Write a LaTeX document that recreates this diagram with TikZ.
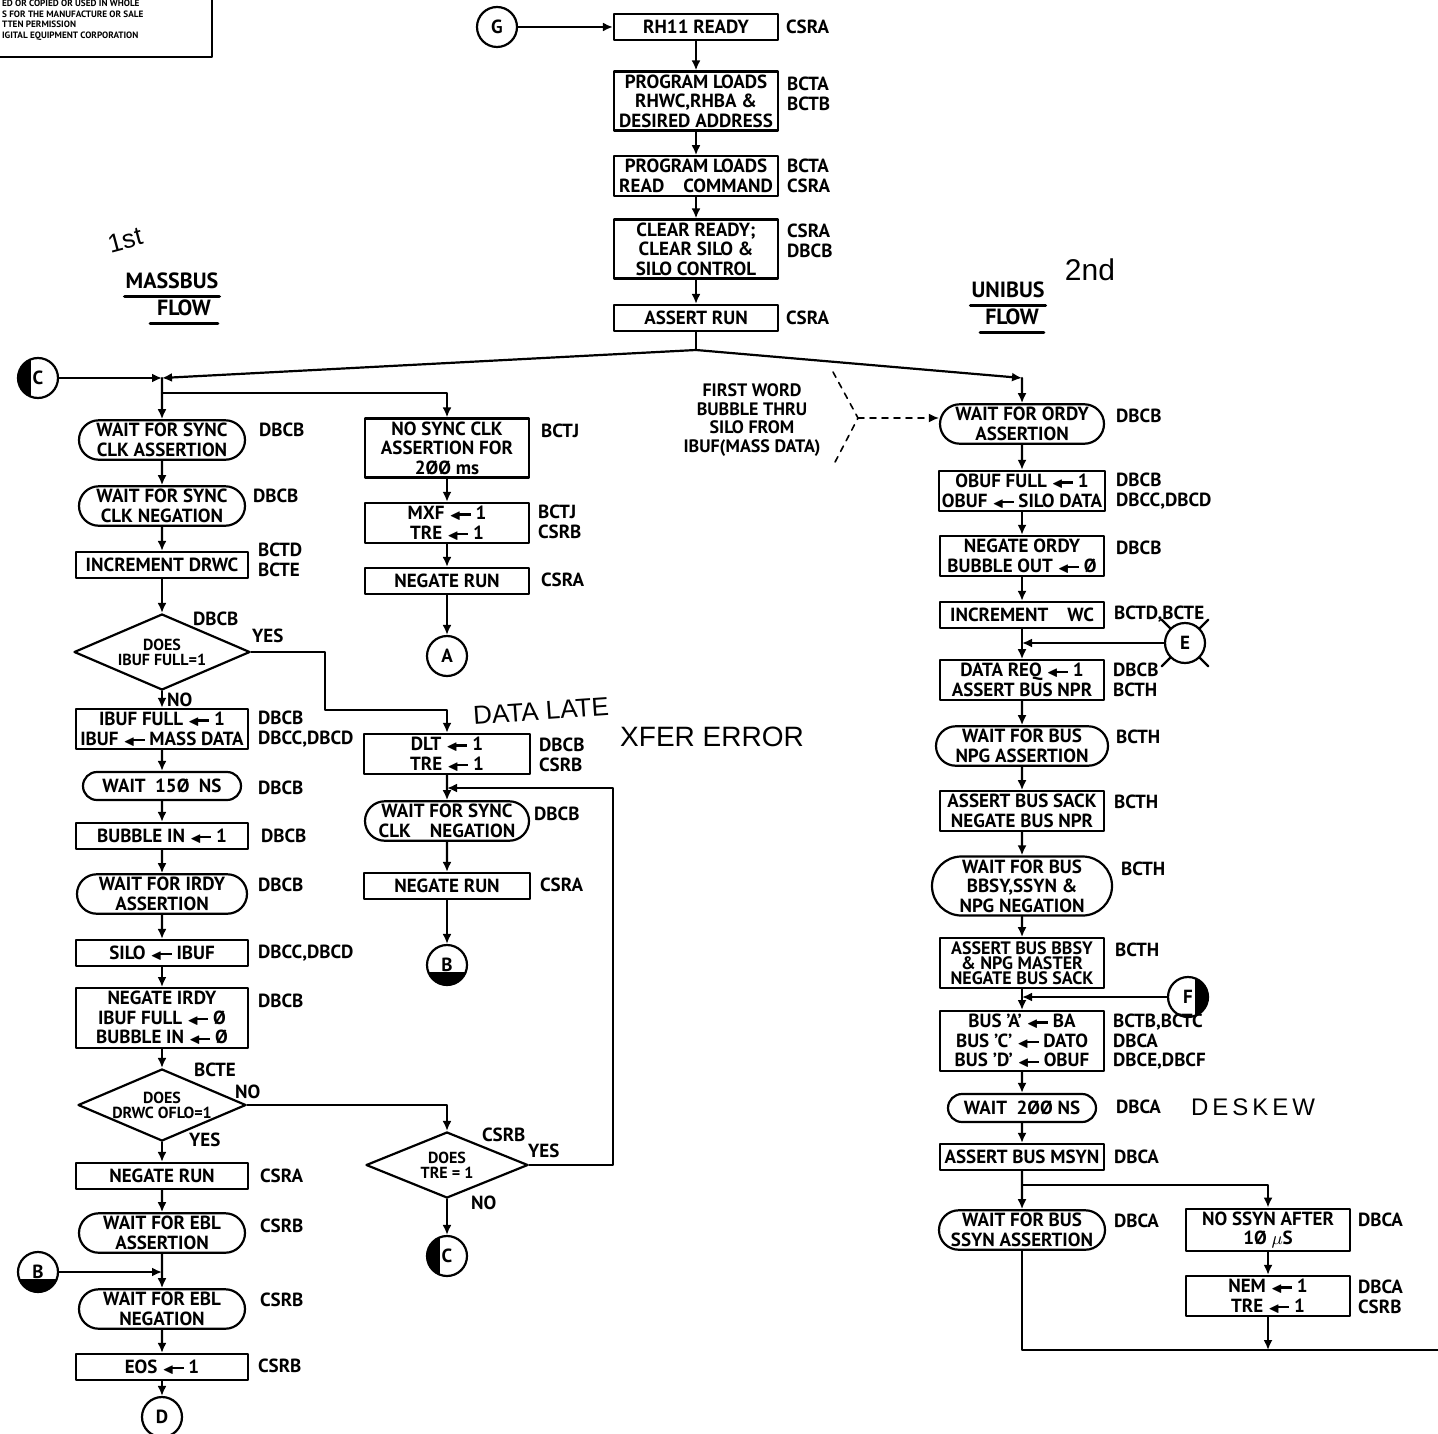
\documentclass[tikz,border=0pt]{standalone}
\usepackage{amsmath,amssymb}
\usepackage{fontspec}
\setmainfont{PT Sans}
\newfontfamily\handfont{Liberation Sans}
\usetikzlibrary{shapes.geometric,shapes.misc,arrows.meta}
\newcommand\lbl{\fontsize{9.5}{9.8}\selectfont\bfseries}
\newcommand\lar{\ensuremath{\scriptstyle\blacktriangleleft}\kern-0.25em\rule[0.2em]{0.75em}{1.2pt}}
\tikzset{
  box/.style={draw, rectangle, minimum width=#1, minimum height=13pt, inner sep=1.5pt, align=center, font=\lbl},
  box/.default=82pt,
  term/.style={draw, rounded rectangle, minimum width=#1, minimum height=14pt, inner sep=1.5pt, align=center, font=\lbl},
  term/.default=86pt,
  dec/.style={draw, diamond, aspect=2.3, inner sep=0pt, align=center, font=\fontsize{8}{7.5}\selectfont\bfseries},
  conn/.style={draw, circle, minimum size=20pt, inner sep=0pt, font=\lbl},
  cleft/.style={conn, path picture={\fill (path picture bounding box.south west) rectangle ([xshift=-3.5pt]path picture bounding box.north);}},
  cbot/.style={conn, path picture={\fill (path picture bounding box.south west) rectangle ([yshift=-3.5pt]path picture bounding box.east);}},
  cright/.style={conn, path picture={\fill ([xshift=3.5pt]path picture bounding box.south) rectangle (path picture bounding box.north east);}},
  tag/.style={anchor=west, align=left, inner sep=0pt, font=\lbl},
  hand/.style={inner sep=0pt, font=\handfont\fontsize{13}{13}\selectfont},
  arr/.style={-{Latex[length=5pt,width=4.5pt]}},
}
\begin{document}
\begin{tikzpicture}[x=0.5pt,y=-0.5pt,line width=1.1pt,line cap=round,line join=round]
\useasboundingbox (0,0) rectangle (1438,1433);
% notice in the corner
\draw (0,57) -- (212,57) -- (212,-2);
\node[anchor=north west, align=left, inner sep=0pt, font=\fontsize{4.6}{5.3}\selectfont\bfseries] (notice) at (1,-1) {ED OR COPIED OR USED IN WHOLE\\S FOR THE MANUFACTURE OR SALE\\TTEN PERMISSION\\IGITAL EQUIPMENT CORPORATION};

% titles
\node[font=\fontsize{11}{11}\selectfont\bfseries, inner sep=0pt] (mtit) at (172,281) {MASSBUS};
\node[font=\fontsize{11}{11}\selectfont\bfseries, inner sep=0pt] (mflow) at (184,308) {FLOW};
\draw[line width=1.6pt] ([yshift=-3pt]mtit.south west) -- ([yshift=-3pt]mtit.south east);
\draw[line width=1.6pt] ([xshift=-3pt,yshift=-3pt]mflow.south west) -- ([xshift=3pt,yshift=-3pt]mflow.south east);
\node[font=\fontsize{11}{11}\selectfont\bfseries, inner sep=0pt] (utit) at (1008,290) {UNIBUS};
\node[font=\fontsize{11}{11}\selectfont\bfseries, inner sep=0pt] (uflow) at (1012,317) {FLOW};
\draw[line width=1.6pt] ([yshift=-3pt]utit.south west) -- ([yshift=-3pt]utit.south east);
\draw[line width=1.6pt] ([xshift=-2pt,yshift=-3pt]uflow.south west) -- ([xshift=2pt,yshift=-3pt]uflow.south east);
\node[hand, rotate=15] (first) at (125,240) {1st};
\node[hand, font=\handfont\fontsize{15}{15}\selectfont] (second) at (1090,270) {2nd};
\node[hand, rotate=4] (late) at (541,711) {DATA LATE};
\node[hand, font=\handfont\fontsize{14}{14}\selectfont] (xfer) at (712,737) {XFER ERROR};
\node[hand, anchor=west, font=\handfont\fontsize{12}{12}\selectfont] (deskew) at (1190,1107) {D\,E\,S\,K\,E\,W};

% top column
\node[conn] (cG) at (497,27) {G};
\node[box] (rdy) at (696,27) {RH11 READY};
\node[box] (pl1) at (696,101) {PROGRAM LOADS\\RHWC,RHBA \&\\DESIRED ADDRESS};
\node[box] (pl2) at (696,176) {PROGRAM LOADS\\READ\quad COMMAND};
\node[box] (clr) at (696,249) {CLEAR READY;\\CLEAR SILO \&\\SILO CONTROL};
\node[box] (arun) at (696,318) {ASSERT RUN};
\node[tag] (trdy) at (785,27) {CSRA};
\node[tag] (tpl1) at (786,94) {BCTA\\BCTB};
\node[tag] (tpl2) at (786,176) {BCTA\\CSRA};
\node[tag] (tclr) at (786,241) {CSRA\\DBCB};
\node[tag] (tarun) at (785,318) {CSRA};

% massbus column
\node[cleft] (cC1) at (38,378) {C};
\node[term] (ws1) at (162,440) {WAIT FOR SYNC\\CLK ASSERTION};
\node[term] (ws2) at (162,506) {WAIT FOR SYNC\\CLK NEGATION};
\node[box=86pt] (incd) at (162,565) {INCREMENT DRWC};
\node[dec, minimum width=88pt, minimum height=38pt] (dq1) at (162,652) {DOES\\IBUF FULL=1};
\node[box=86pt] (ibuf) at (162,729) {IBUF FULL \lar\ 1\\IBUF \lar\ MASS DATA};
\node[term=82pt] (w150) at (162,786) {WAIT\enspace 15Ø\enspace NS};
\node[box=86pt] (bub) at (162,836) {BUBBLE IN \lar\ 1};
\node[term=88pt] (wirdy) at (162,894) {WAIT FOR IRDY\\ASSERTION};
\node[box=86pt] (silo) at (162,953) {SILO \lar\ IBUF};
\node[box=86pt] (negi) at (162,1018) {NEGATE IRDY\\IBUF FULL \lar\ Ø\\BUBBLE IN \lar\ Ø};
\node[dec, minimum width=84pt, minimum height=36pt] (dq2) at (162,1105) {DOES\\DRWC OFLO=1};
\node[box=86pt] (negr1) at (162,1176) {NEGATE RUN};
\node[term] (webl1) at (162,1233) {WAIT FOR EBL\\ASSERTION};
\node[cbot] (cB1) at (38,1272) {B};
\node[term] (webl2) at (162,1309) {WAIT FOR EBL\\NEGATION};
\node[box=86pt] (eos) at (162,1367) {EOS \lar\ 1};
\node[conn] (cD) at (162,1417) {D};
\node[tag] (tws1) at (258,430) {DBCB};
\node[tag] (tws2) at (252,496) {DBCB};
\node[tag] (tincd) at (257,560) {BCTD\\BCTE};
\node[tag] (tdq1) at (192,619) {DBCB};
\node[tag] (ydq1) at (251,636) {YES};
\node[tag] (ndq1) at (166,700) {NO};
\node[tag] (tibuf) at (257,729) {DBCB\\DBCC,DBCD};
\node[tag] (tw150) at (257,788) {DBCB};
\node[tag] (tbub) at (260,836) {DBCB};
\node[tag] (twirdy) at (257,885) {DBCB};
\node[tag] (tsilo) at (257,953) {DBCC,DBCD};
\node[tag] (tnegi) at (257,1001) {DBCB};
\node[tag] (tdq2) at (193,1070) {BCTE};
\node[tag] (ndq2) at (234,1092) {NO};
\node[tag] (ydq2) at (188,1140) {YES};
\node[tag] (tnegr1) at (259,1176) {CSRA};
\node[tag] (twebl1) at (259,1226) {CSRB};
\node[tag] (twebl2) at (259,1300) {CSRB};
\node[tag] (teos) at (257,1366) {CSRB};

% middle column
\node[box] (nosync) at (447,448) {NO SYNC CLK\\ASSERTION FOR\\2ØØ ms};
\node[box] (mxf) at (447,523) {MXF \lar\ 1\\TRE \lar\ 1};
\node[box] (negr2) at (447,581) {NEGATE RUN};
\node[conn] (cA) at (447,656) {A};
\node[box=83pt] (dlt) at (447,754) {DLT \lar\ 1\\TRE \lar\ 1};
\node[term=85pt] (wsn) at (447,821) {WAIT FOR SYNC\\CLK\quad NEGATION};
\node[box=83pt] (negr3) at (447,886) {NEGATE RUN};
\node[cbot] (cB2) at (447,965) {B};
\node[dec, minimum width=81pt, minimum height=33pt] (dq3) at (447,1165) {DOES\\TRE = 1};
\node[cleft] (cC2) at (447,1256) {C};
\node[tag] (tnosync) at (540,431) {BCTJ};
\node[tag] (tmxf) at (537,522) {BCTJ\\CSRB};
\node[tag] (tnegr2) at (540,580) {CSRA};
\node[tag] (tdlt) at (538,755) {DBCB\\CSRB};
\node[tag] (twsn) at (533,814) {DBCB};
\node[tag] (tnegr3) at (539,885) {CSRA};
\node[tag] (tdq3) at (481,1135) {CSRB};
\node[tag] (ydq3) at (527,1151) {YES};
\node[tag] (ndq3) at (470,1203) {NO};
\node[font=\fontsize{9}{9.2}\selectfont\bfseries, align=center, inner sep=0pt] (note) at (752,420) {FIRST WORD\\BUBBLE THRU\\SILO FROM\\IBUF(MASS DATA)};

% unibus column
\node[term=85pt] (wordy) at (1022,424) {WAIT FOR ORDY\\ASSERTION};
\node[box] (obuf) at (1022,491) {OBUF FULL \lar\ 1\\OBUF \lar\ SILO DATA};
\node[box] (nego) at (1022,556) {NEGATE ORDY\\BUBBLE OUT \lar\ Ø};
\node[box] (incw) at (1022,615) {INCREMENT\quad WC};
\node[conn] (cE) at (1185,643) {E};
\node[box] (dreq) at (1022,680) {DATA REQ \lar\ 1\\ASSERT BUS NPR};
\node[term=89pt] (wnpg) at (1022,746) {WAIT FOR BUS\\NPG ASSERTION};
\node[box] (sack) at (1022,811) {ASSERT BUS SACK\\NEGATE BUS NPR};
\node[term=93pt] (wbb) at (1022,886) {WAIT FOR BUS\\BBSY,SSYN \&\\NPG NEGATION};
\node[box, font=\fontsize{9}{7.6}\selectfont\bfseries] (bbsy) at (1022,963) {ASSERT BUS BBSY\\\& NPG MASTER\\NEGATE BUS SACK};
\node[cright] (cF) at (1188,997) {F};
\node[box] (busa) at (1022,1041) {BUS 'A' \lar\ BA\\BUS 'C' \lar\ DATO\\BUS 'D' \lar\ OBUF};
\node[term=77pt] (w200) at (1022,1108) {WAIT\enspace 2ØØ NS};
\node[box] (msyn) at (1022,1157) {ASSERT BUS MSYN};
\node[term=86pt] (wssyn) at (1022,1230) {WAIT FOR BUS\\SSYN ASSERTION};
\node[box] (nossyn) at (1268,1230) {NO SSYN AFTER\\1Ø $\mu$S};
\node[box] (nem) at (1268,1296) {NEM \lar\ 1\\TRE \lar\ 1};
\node[tag] (twordy) at (1115,416) {DBCB};
\node[tag] (tobuf) at (1115,491) {DBCB\\DBCC,DBCD};
\node[tag] (tnego) at (1115,548) {DBCB};
\node[tag] (tincw) at (1113,614) {BCTD,BCTE};
\node[tag] (tdreq) at (1112,680) {DBCB\\BCTH};
\node[tag] (twnpg) at (1115,737) {BCTH};
\node[tag] (tsack) at (1113,802) {BCTH};
\node[tag] (twbb) at (1120,869) {BCTH};
\node[tag] (tbbsy) at (1114,950) {BCTH};
\node[tag] (tbusa) at (1112,1042) {BCTB,BCTC\\DBCA\\DBCE,DBCF};
\node[tag] (tw200) at (1115,1107) {DBCA};
\node[tag] (tmsyn) at (1113,1157) {DBCA};
\node[tag] (twssyn) at (1113,1221) {DBCA};
\node[tag] (tnossyn) at (1357,1220) {DBCA};
\node[tag] (tnem) at (1357,1297) {DBCA\\CSRB};
\foreach \a in {45,135,225,315}
  \draw (cE.\a) -- ([shift={(\a:6pt)}]cE.\a);

% connectors
\coordinate (split) at (696,350);
\coordinate (jl) at (162,378);
\coordinate (jb) at (162,393);
\coordinate (jr) at (1022,378);
\coordinate (yes1) at (325,710);
\coordinate (yes3) at (613,788);
\coordinate (rb) at (1022,1185);
\coordinate (exit) at (1438,1350);
\coordinate (bk) at (858,418);
\draw[arr] (cG) -- (rdy);
\foreach \a/\b in {rdy/pl1,pl1/pl2,pl2/clr,clr/arun}
  \draw[arr] (\a) -- (\b);
\draw (arun) -- (split);
\draw[arr] (split) -- (jl);
\draw[arr] (split) -- (jr);
\draw[arr] (cC1) -- (jl);
\draw[arr] (jl) -- (ws1);
\draw[arr] (jb) -| (nosync);
\draw[arr] (jr) -- (wordy);
\foreach \a/\b in {ws1/ws2,ws2/incd,incd/dq1,dq1/ibuf,ibuf/w150,w150/bub,bub/wirdy,wirdy/silo,silo/negi,negi/dq2,dq2/negr1,negr1/webl1,webl1/webl2,webl2/eos,eos/cD}
  \draw[arr] (\a) -- (\b);
\foreach \a/\b in {nosync/mxf,mxf/negr2,negr2/cA,dlt/wsn,wsn/negr3,negr3/cB2,dq3/cC2}
  \draw[arr] (\a) -- (\b);
\foreach \a/\b in {wordy/obuf,obuf/nego,nego/incw,incw/dreq,dreq/wnpg,wnpg/sack,sack/wbb,wbb/bbsy,bbsy/busa,busa/w200,w200/msyn,msyn/wssyn,nossyn/nem}
  \draw[arr] (\a) -- (\b);
\draw[arr] (cB1) -- (cB1 -| webl1.south);
\draw[arr] (cE) -- (cE -| incw.south);
\draw[arr] (cF) -- (cF -| bbsy.south);
\draw[arr] (dq1.east) -| (yes1) -| (dlt);
\draw[arr] (dq2.east) -| (dq3);
\draw[arr] (dq3.east) -| (yes3) -- (yes3 -| wsn.north);
\draw[arr] (rb) -| (nossyn);
\draw (wssyn) |- (exit);
\draw[arr] (nem) -- (nem |- exit);
\draw[dashed, line width=0.8pt] (833,372) -- (bk) -- (833,466);
\draw[dashed, arr, line width=0.8pt] (bk) -- (bk -| wordy.west);
\end{tikzpicture}
\end{document}
